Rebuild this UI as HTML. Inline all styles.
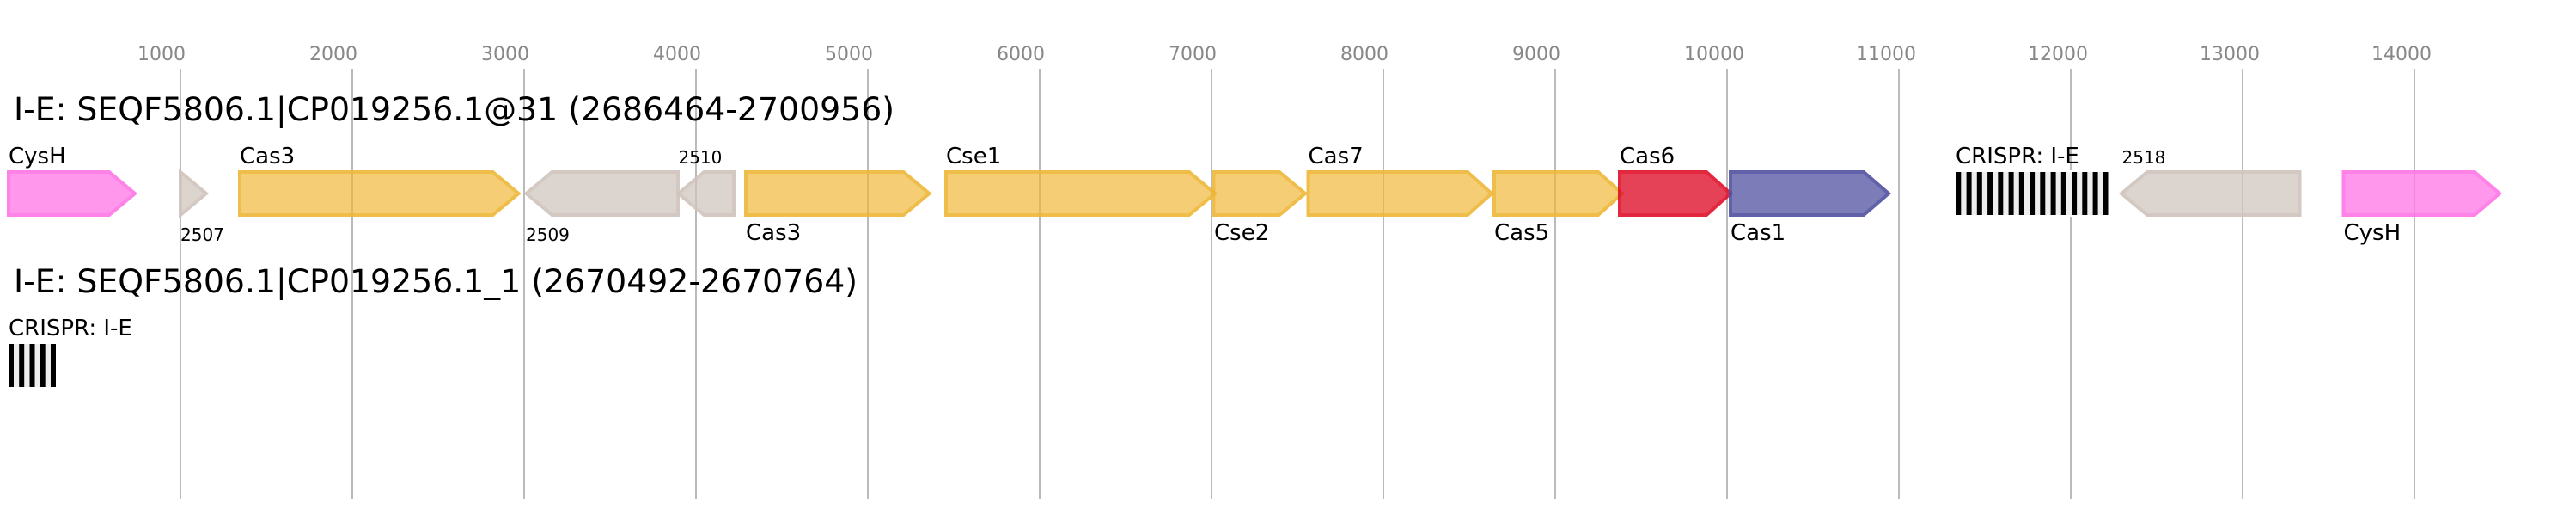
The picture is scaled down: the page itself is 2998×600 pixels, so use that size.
<!DOCTYPE html>
<html>
<head>
<meta charset="utf-8">
<style>
html,body{margin:0;padding:0;background:#fff;}
svg{display:block;}
text{font-family:"DejaVu Sans",sans-serif;fill:#000;}
.ax{font-size:22px;fill:#888;}
.ti{font-size:37.8px;}
.gl{font-size:26px;}
.sm{font-size:20px;}
.g{opacity:.9;stroke-width:4;}
.gold polygon{fill:#eeb636;stroke:#eeb636;fill-opacity:.76;}
.pink polygon{fill:#ff75e6;stroke:#ff75e6;fill-opacity:.84;}
.gray polygon{fill:#cfc4bc;stroke:#cfc4bc;fill-opacity:.81;}
.red polygon{fill:#e0102a;stroke:#e0102a;fill-opacity:.875;}
.blue polygon{fill:#4f50a0;stroke:#4f50a0;fill-opacity:.825;}
</style>
</head>
<body>
<svg xmlns="http://www.w3.org/2000/svg" width="2998" height="600" viewBox="0 0 2998 600">
<rect width="2998" height="600" fill="#fff"/>
<g stroke="#bbb" stroke-width="2">
<line x1="210" y1="80" x2="210" y2="580"/><line x1="410" y1="80" x2="410" y2="580"/><line x1="610" y1="80" x2="610" y2="580"/><line x1="810" y1="80" x2="810" y2="580"/><line x1="1010" y1="80" x2="1010" y2="580"/><line x1="1210" y1="80" x2="1210" y2="580"/><line x1="1410" y1="80" x2="1410" y2="580"/><line x1="1610" y1="80" x2="1610" y2="580"/><line x1="1810" y1="80" x2="1810" y2="580"/><line x1="2010" y1="80" x2="2010" y2="580"/><line x1="2210" y1="80" x2="2210" y2="580"/><line x1="2410" y1="80" x2="2410" y2="580"/><line x1="2610" y1="80" x2="2610" y2="580"/><line x1="2810" y1="80" x2="2810" y2="580"/>
</g>
<g class="ax">
<text class="ax" x="160" y="70">1000</text><text class="ax" x="360" y="70">2000</text><text class="ax" x="560" y="70">3000</text><text class="ax" x="760" y="70">4000</text><text class="ax" x="960" y="70">5000</text><text class="ax" x="1160" y="70">6000</text><text class="ax" x="1360" y="70">7000</text><text class="ax" x="1560" y="70">8000</text><text class="ax" x="1760" y="70">9000</text><text class="ax" x="1960" y="70">10000</text><text class="ax" x="2160" y="70">11000</text><text class="ax" x="2360" y="70">12000</text><text class="ax" x="2560" y="70">13000</text><text class="ax" x="2760" y="70">14000</text>
</g>
<text class="ti" x="16" y="140">I-E: SEQF5806.1|CP019256.1@31 (2686464-2700956)</text>
<text class="ti" x="16" y="340">I-E: SEQF5806.1|CP019256.1_1 (2670492-2670764)</text>

<g class="g pink"><polygon points="10,200 127,200 157,225 127,250 10,250"/></g>
<g class="g gray"><polygon points="210,200 240,225 210,250"/></g>
<g class="g gold"><polygon points="279,200 573.5,200 603.5,225 573.5,250 279,250"/></g>
<g class="g gray"><polygon points="612.5,225 642.5,200 789,200 789,250 642.5,250"/></g>
<g class="g gray"><polygon points="789.5,225 819.5,200 854,200 854,250 819.5,250"/></g>
<g class="g gold"><polygon points="868,200 1051.5,200 1081.5,225 1051.5,250 868,250"/></g>
<g class="g gold"><polygon points="1101,200 1384,200 1414,225 1384,250 1101,250"/></g>
<g class="g gold"><polygon points="1412.5,200 1489,200 1519,225 1489,250 1412.5,250"/></g>
<g class="g gold"><polygon points="1522.5,200 1708,200 1736,225 1708,250 1522.5,250"/></g>
<g class="g gold"><polygon points="1739,200 1860,200 1888,225 1860,250 1739,250"/></g>
<g class="g red"><polygon points="1885,200 1986,200 2014,225 1986,250 1885,250"/></g>
<g class="g blue"><polygon points="2014,200 2169,200 2198,225 2169,250 2014,250"/></g>
<g class="g gray"><polygon points="2469,225 2499,200 2676.5,200 2676.5,250 2499,250"/></g>
<g class="g pink"><polygon points="2727.5,200 2880,200 2909,225 2880,250 2727.5,250"/></g>

<rect x="2274" y="198" width="182" height="54" fill="#fff"/>
<rect x="2276" y="200" width="177.5" height="50" fill="#eee"/>
<g fill="#000">
<rect x="2276.3" y="200" width="6" height="50"/><rect x="2288.6" y="200" width="6" height="50"/><rect x="2300.8" y="200" width="6" height="50"/><rect x="2313.1" y="200" width="6" height="50"/><rect x="2325.3" y="200" width="6" height="50"/><rect x="2337.6" y="200" width="6" height="50"/><rect x="2349.8" y="200" width="6" height="50"/><rect x="2362.1" y="200" width="6" height="50"/><rect x="2374.3" y="200" width="6" height="50"/><rect x="2386.6" y="200" width="6" height="50"/><rect x="2398.8" y="200" width="6" height="50"/><rect x="2411.1" y="200" width="6" height="50"/><rect x="2423.3" y="200" width="6" height="50"/><rect x="2435.6" y="200" width="6" height="50"/><rect x="2447.5" y="200" width="6" height="50"/>
</g>
<rect x="10" y="400" width="55" height="50" fill="#eee"/>
<g fill="#000">
<rect x="10" y="400" width="6" height="50"/><rect x="22.2" y="400" width="6" height="50"/><rect x="34.5" y="400" width="6" height="50"/><rect x="46.7" y="400" width="6" height="50"/><rect x="59" y="400" width="6" height="50"/>
</g>

<text class="gl" x="10" y="190">CysH</text>
<text class="gl" x="279" y="190">Cas3</text>
<text class="sm" x="210" y="280">2507</text>
<text class="sm" x="612" y="280">2509</text>
<text class="sm" x="789.5" y="190">2510</text>
<text class="gl" x="868" y="279">Cas3</text>
<text class="gl" x="1101" y="190">Cse1</text>
<text class="gl" x="1413" y="279">Cse2</text>
<text class="gl" x="1522.5" y="190">Cas7</text>
<text class="gl" x="1739" y="279">Cas5</text>
<text class="gl" x="1885" y="190">Cas6</text>
<text class="gl" x="2014" y="279">Cas1</text>
<text class="gl" x="2276" y="190">CRISPR: I-E</text>
<text class="sm" x="2469.5" y="190">2518</text>
<text class="gl" x="2727.5" y="279">CysH</text>
<text class="gl" x="10" y="390">CRISPR: I-E</text>
</svg>
</body>
</html>
